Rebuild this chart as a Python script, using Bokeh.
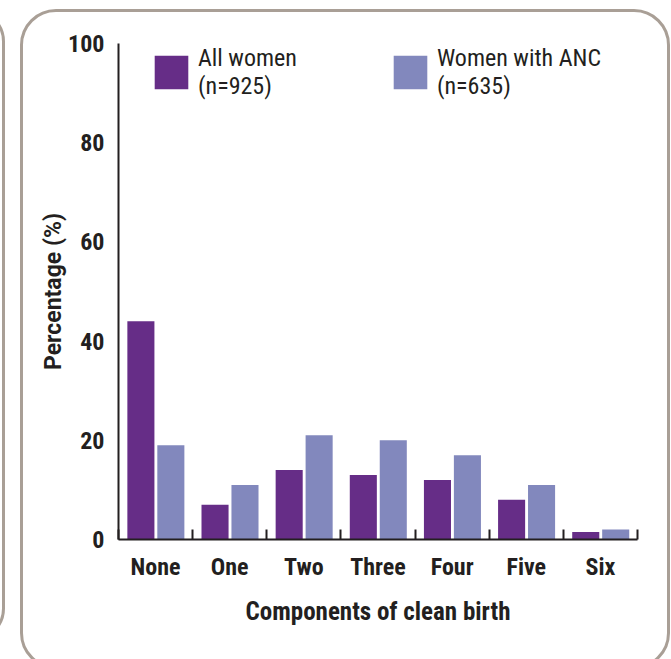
import numpy as np
from bokeh.plotting import figure
from bokeh.models import (ColumnDataSource, Range1d, FixedTicker, Legend, LegendItem,
                          InlineStyleSheet)
from bokeh.transform import dodge
from bokeh.embed import file_html
from bokeh.resources import INLINE

# ---- data ----
categories = ["None", "One", "Two", "Three", "Four", "Five", "Six"]
all_women = [44, 7, 14, 13, 12, 8, 1.5]
women_anc = [19, 11, 21, 20, 17, 11, 2]
series_labels = ["All women\n(n=925)", "Women with ANC\n(n=635)"]
y_ticks = [0, 20, 40, 60, 80, 100]

PURPLE = "#662d87"
LAVENDER = "#8288bd"
INK = "#231f20"
FRAME = "#a99f96"
FONT = "Liberation Sans Narrow, Roboto Condensed, DejaVu Sans Condensed, sans-serif"

centers = list(np.arange(len(categories)) + 0.5)
src = ColumnDataSource(dict(pos=centers, cat=categories, a=all_women, b=women_anc))

p = figure(width=671, height=659, output_backend="svg", toolbar_location=None,
           x_range=Range1d(0, len(categories)), y_range=Range1d(0, 100),
           min_border_left=118, min_border_right=34, min_border_top=43,
           min_border_bottom=120)
p.outline_line_color = None
p.xgrid.grid_line_color = None
p.ygrid.grid_line_color = None
p.background_fill_color = "white"
p.border_fill_color = "white"

r1 = p.vbar(x=dodge("pos", -0.198, range=p.x_range), top="a", width=0.365, source=src,
            fill_color=PURPLE, line_color=None)
r2 = p.vbar(x=dodge("pos", 0.206, range=p.x_range), top="b", width=0.365, source=src,
            fill_color=LAVENDER, line_color=None)

# x axis
xa = p.xaxis[0]
xa.ticker = FixedTicker(ticks=centers, minor_ticks=list(range(len(categories) + 1)))
xa.major_label_overrides = {c: n for c, n in zip(centers, categories)}
xa.major_tick_line_color = None
xa.minor_tick_in = 10
xa.minor_tick_out = 0
xa.minor_tick_line_width = 2
xa.minor_tick_line_color = INK
xa.axis_line_color = INK
xa.axis_line_width = 2
xa.major_label_text_font = FONT
xa.major_label_text_font_style = "bold"
xa.major_label_text_font_size = "24px"
xa.major_label_text_color = INK
xa.major_label_standoff = 7
xa.axis_label = "Components of clean birth"
xa.axis_label_text_font = FONT
xa.axis_label_text_font_style = "bold"
xa.axis_label_text_font_size = "25px"
xa.axis_label_text_color = INK
xa.axis_label_standoff = 13

# y axis
ya = p.yaxis[0]
ya.ticker = FixedTicker(ticks=y_ticks)
ya.major_tick_line_color = None
ya.minor_tick_line_color = None
ya.axis_line_color = INK
ya.axis_line_width = 2
ya.major_label_text_font = FONT
ya.major_label_text_font_style = "bold"
ya.major_label_text_font_size = "24px"
ya.major_label_text_color = INK
ya.major_label_standoff = 8
ya.axis_label = "Percentage (%)"
ya.axis_label_text_font = "Roboto"
ya.axis_label_text_font_style = "bold"
ya.axis_label_text_font_size = "23px"
ya.axis_label_text_color = INK
ya.axis_label_standoff = -2

legend = Legend(items=[LegendItem(label=series_labels[0], renderers=[r1]),
                       LegendItem(label=series_labels[1], renderers=[r2])],
                orientation="horizontal", location=(32, 439),
                glyph_width=42, glyph_height=42, label_standoff=6, spacing=92,
                padding=0, margin=0, border_line_color=None, background_fill_alpha=0,
                label_text_font=FONT, label_text_font_size="24px",
                label_text_line_height=1.35, label_text_color=INK)
p.add_layout(legend, "center")

# rounded panel frames (current panel + edge of the neighbouring one)
p.stylesheets = [InlineStyleSheet(css=f"""
:host {{ position: relative; overflow: hidden; }}
:host::after {{ content: ''; position: absolute; left: 20px; top: 9px; width: 650px;
  height: 660px; border: 3px solid {FRAME}; border-radius: 36px; box-sizing: border-box;
  pointer-events: none; }}
:host::before {{ content: ''; position: absolute; left: -60px; top: 9px; width: 65px;
  height: 632px; border: 3px solid {FRAME}; border-radius: 36px; box-sizing: border-box;
  pointer-events: none; z-index: 5; }}
""")]

open("out.html", "w").write(file_html(p, INLINE))
